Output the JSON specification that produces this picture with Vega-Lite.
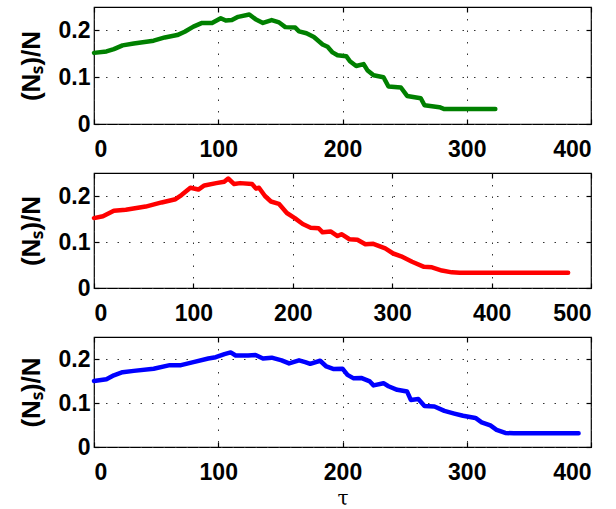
{
  "$schema": "https://vega.github.io/schema/vega-lite/v6.json",
  "background": "white",
  "padding": {"left": 17, "top": 5, "right": 0, "bottom": 0},
  "spacing": 9,
  "datasets": {
    "g": [
      {"t":0,"v":0.152},{"t":10,"v":0.155},{"t":16,"v":0.16},{"t":23,"v":0.168},{"t":32,"v":0.172},{"t":48,"v":0.178},{"t":57,"v":0.185},{"t":67,"v":0.19},{"t":73,"v":0.197},{"t":80,"v":0.208},{"t":87,"v":0.216},{"t":95,"v":0.216},{"t":102,"v":0.226},{"t":106,"v":0.221},{"t":111,"v":0.222},{"t":116,"v":0.229},{"t":125,"v":0.234},{"t":130,"v":0.224},{"t":136,"v":0.216},{"t":143,"v":0.222},{"t":149,"v":0.217},{"t":154,"v":0.207},{"t":162,"v":0.206},{"t":165,"v":0.198},{"t":171,"v":0.194},{"t":177,"v":0.186},{"t":184,"v":0.17},{"t":188,"v":0.165},{"t":192,"v":0.153},{"t":196,"v":0.147},{"t":203,"v":0.145},{"t":206,"v":0.134},{"t":211,"v":0.124},{"t":217,"v":0.128},{"t":220,"v":0.115},{"t":225,"v":0.104},{"t":233,"v":0.1},{"t":237,"v":0.08},{"t":247,"v":0.078},{"t":252,"v":0.06},{"t":263,"v":0.055},{"t":266,"v":0.04},{"t":278,"v":0.036},{"t":282,"v":0.032},{"t":323,"v":0.032}
    ],
    "r": [
      {"t":0,"v":0.152},{"t":9,"v":0.156},{"t":20,"v":0.168},{"t":32,"v":0.17},{"t":52,"v":0.177},{"t":68,"v":0.186},{"t":82,"v":0.193},{"t":88,"v":0.202},{"t":97,"v":0.218},{"t":105,"v":0.214},{"t":111,"v":0.223},{"t":123,"v":0.228},{"t":131,"v":0.231},{"t":135,"v":0.238},{"t":141,"v":0.226},{"t":147,"v":0.228},{"t":159,"v":0.226},{"t":163,"v":0.216},{"t":166,"v":0.218},{"t":172,"v":0.2},{"t":178,"v":0.188},{"t":186,"v":0.183},{"t":194,"v":0.163},{"t":202,"v":0.152},{"t":210,"v":0.139},{"t":218,"v":0.131},{"t":226,"v":0.13},{"t":230,"v":0.121},{"t":238,"v":0.123},{"t":245,"v":0.113},{"t":249,"v":0.117},{"t":257,"v":0.106},{"t":265,"v":0.105},{"t":273,"v":0.095},{"t":281,"v":0.096},{"t":293,"v":0.086},{"t":301,"v":0.075},{"t":309,"v":0.069},{"t":320,"v":0.057},{"t":332,"v":0.046},{"t":340,"v":0.045},{"t":350,"v":0.038},{"t":360,"v":0.034},{"t":368,"v":0.033},{"t":477,"v":0.033}
    ],
    "b": [
      {"t":0,"v":0.15},{"t":10,"v":0.154},{"t":16,"v":0.163},{"t":23,"v":0.17},{"t":32,"v":0.173},{"t":48,"v":0.178},{"t":61,"v":0.186},{"t":70,"v":0.186},{"t":80,"v":0.193},{"t":92,"v":0.201},{"t":98,"v":0.204},{"t":105,"v":0.211},{"t":110,"v":0.215},{"t":114,"v":0.208},{"t":124,"v":0.208},{"t":130,"v":0.209},{"t":136,"v":0.201},{"t":143,"v":0.203},{"t":151,"v":0.197},{"t":157,"v":0.19},{"t":165,"v":0.197},{"t":170,"v":0.193},{"t":174,"v":0.189},{"t":182,"v":0.196},{"t":187,"v":0.183},{"t":193,"v":0.177},{"t":200,"v":0.178},{"t":204,"v":0.164},{"t":209,"v":0.156},{"t":215,"v":0.157},{"t":222,"v":0.149},{"t":225,"v":0.14},{"t":233,"v":0.145},{"t":237,"v":0.138},{"t":244,"v":0.13},{"t":252,"v":0.126},{"t":255,"v":0.107},{"t":261,"v":0.109},{"t":266,"v":0.093},{"t":274,"v":0.092},{"t":282,"v":0.082},{"t":290,"v":0.076},{"t":297,"v":0.071},{"t":307,"v":0.066},{"t":312,"v":0.056},{"t":319,"v":0.049},{"t":324,"v":0.039},{"t":331,"v":0.032},{"t":338,"v":0.031},{"t":390,"v":0.031}
    ]
  },
  "vconcat": [
    {
      "width": 497, "height": 117,
      "data": {"name": "g"},
      "layer": [
        {
          "mark": {"type": "line", "color": "#008000", "strokeWidth": 4.5, "strokeJoin": "round", "strokeCap": "round"},
          "encoding": {
            "x": {"field": "t", "type": "quantitative", "scale": {"domain": [0, 400], "nice": false}, "axis": {"values": [0, 100, 200, 300, 400], "format": "d", "title": null, "grid": true, "orient": "bottom"}},
            "y": {"field": "v", "type": "quantitative", "scale": {"domain": [0, 0.25], "nice": false}, "axis": {"values": [0, 0.1, 0.2], "format": "~g", "title": "(Nₛ)/N", "grid": true, "orient": "left"}}
          }
        },
        {
          "mark": {"type": "line", "opacity": 0},
          "encoding": {
            "x": {"field": "t", "type": "quantitative", "axis": {"values": [0, 100, 200, 300, 400], "labels": false, "title": null, "grid": false, "orient": "top"}},
            "y": {"field": "v", "type": "quantitative", "axis": {"values": [0, 0.1, 0.2], "labels": false, "title": null, "grid": false, "orient": "right"}}
          }
        }
      ],
      "resolve": {"axis": {"x": "independent", "y": "independent"}}
    },
    {
      "width": 497, "height": 115,
      "data": {"name": "r"},
      "layer": [
        {
          "mark": {"type": "line", "color": "#FF0000", "strokeWidth": 4.5, "strokeJoin": "round", "strokeCap": "round"},
          "encoding": {
            "x": {"field": "t", "type": "quantitative", "scale": {"domain": [0, 500], "nice": false}, "axis": {"values": [0, 100, 200, 300, 400, 500], "format": "d", "title": null, "grid": true, "orient": "bottom"}},
            "y": {"field": "v", "type": "quantitative", "scale": {"domain": [0, 0.25], "nice": false}, "axis": {"values": [0, 0.1, 0.2], "format": "~g", "title": "(Nₛ)/N", "grid": true, "orient": "left"}}
          }
        },
        {
          "mark": {"type": "line", "opacity": 0},
          "encoding": {
            "x": {"field": "t", "type": "quantitative", "axis": {"values": [0, 100, 200, 300, 400, 500], "labels": false, "title": null, "grid": false, "orient": "top"}},
            "y": {"field": "v", "type": "quantitative", "axis": {"values": [0, 0.1, 0.2], "labels": false, "title": null, "grid": false, "orient": "right"}}
          }
        }
      ],
      "resolve": {"axis": {"x": "independent", "y": "independent"}}
    },
    {
      "width": 497, "height": 110,
      "data": {"name": "b"},
      "layer": [
        {
          "mark": {"type": "line", "color": "#0000FF", "strokeWidth": 4.5, "strokeJoin": "round", "strokeCap": "round"},
          "encoding": {
            "x": {"field": "t", "type": "quantitative", "scale": {"domain": [0, 400], "nice": false}, "axis": {"values": [0, 100, 200, 300, 400], "format": "d", "title": "τ", "grid": true, "orient": "bottom", "titleFont": "DejaVu Serif", "titleFontWeight": "normal", "titleFontSize": 20, "titlePadding": 4}},
            "y": {"field": "v", "type": "quantitative", "scale": {"domain": [0, 0.25], "nice": false}, "axis": {"values": [0, 0.1, 0.2], "format": "~g", "title": "(Nₛ)/N", "grid": true, "orient": "left"}}
          }
        },
        {
          "mark": {"type": "line", "opacity": 0},
          "encoding": {
            "x": {"field": "t", "type": "quantitative", "axis": {"values": [0, 100, 200, 300, 400], "labels": false, "title": null, "grid": false, "orient": "top"}},
            "y": {"field": "v", "type": "quantitative", "axis": {"values": [0, 0.1, 0.2], "labels": false, "title": null, "grid": false, "orient": "right"}}
          }
        }
      ],
      "resolve": {"axis": {"x": "independent", "y": "independent"}}
    }
  ],
  "config": {
    "view": {"stroke": "black", "strokeWidth": 1.2},
    "axis": {
      "domain": false,
      "ticks": true,
      "tickSize": -5,
      "tickColor": "black",
      "tickWidth": 1.2,
      "labelFont": "Liberation Sans",
      "labelFontWeight": "bold",
      "labelFontSize": 23,
      "labelColor": "black",
      "labelPadding": 19,
      "gridColor": "#333333",
      "gridDash": [1.5, 10],
      "gridWidth": 1,
      "titleFont": "Liberation Sans",
      "titleFontWeight": "bold",
      "titleFontSize": 26,
      "titleColor": "black",
      "titlePadding": 14
    },
    "axisY": {"labelPadding": 9}
  }
}
